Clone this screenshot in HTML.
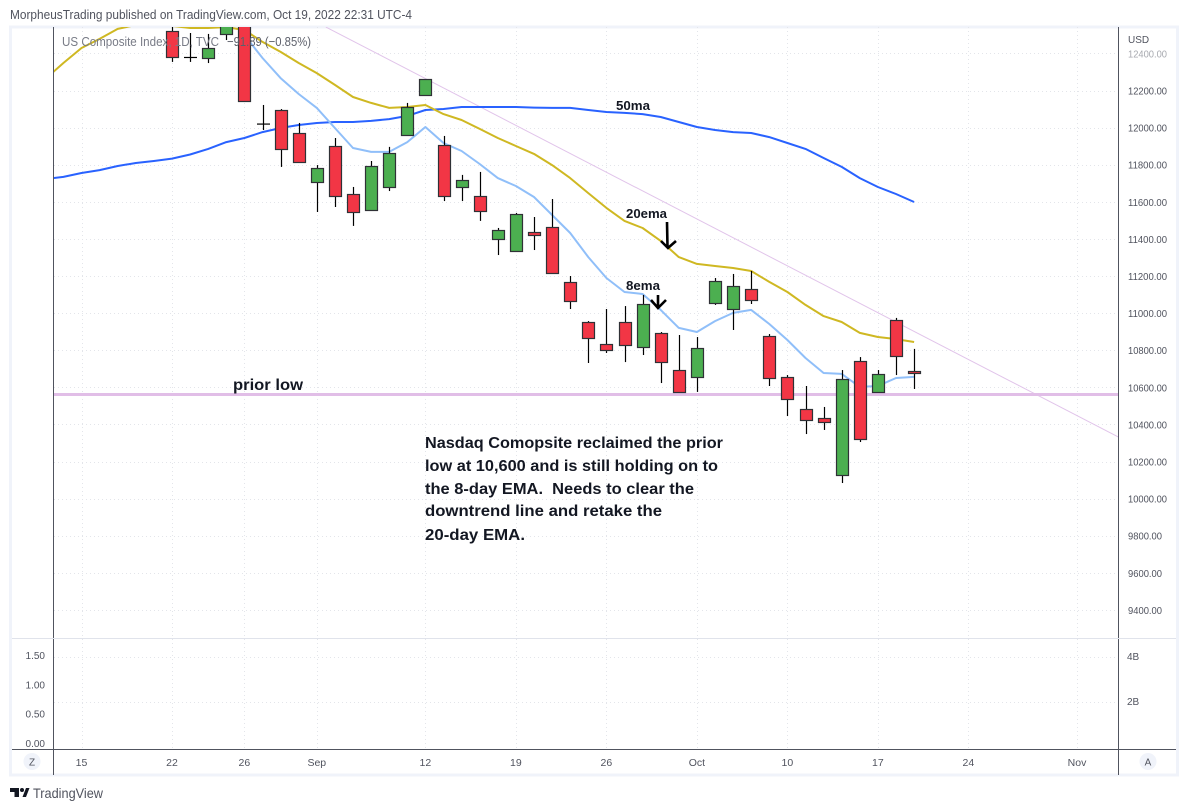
<!DOCTYPE html>
<html lang="en">
<head>
<meta charset="utf-8">
<title>US Composite Index chart</title>
<style>
html,body{margin:0;padding:0;background:#fff;width:1188px;height:810px;overflow:hidden}
svg{display:block;font-family:"Liberation Sans",sans-serif}
</style>
</head>
<body>
<svg id="chart" width="1188" height="810" viewBox="0 0 1188 810" xmlns="http://www.w3.org/2000/svg">
  <defs><clipPath id="paneClip"><rect x="54" y="27" width="1064" height="611"/></clipPath></defs>
  <text x="10" y="19" font-size="13" fill="#50535e" textLength="402" lengthAdjust="spacingAndGlyphs">MorpheusTrading published on TradingView.com, Oct 19, 2022 22:31 UTC-4</text>
  <rect x="10.5" y="27" width="1167" height="748" fill="#fff" stroke="#f0f3fa" stroke-width="3"/>
  <g id="grid"></g>
  <g id="main" clip-path="url(#paneClip)"></g>
  <g id="axes"></g>

  <text x="62" y="46" font-size="13" fill="#787b86" textLength="157" lengthAdjust="spacingAndGlyphs">US Composite Index, 1D, TVC</text>
  <text x="227" y="46" font-size="13" fill="#5d606b" textLength="84" lengthAdjust="spacingAndGlyphs">−91.89 (−0.85%)</text>

  <g fill="#131722" font-weight="bold">
    <text x="616" y="110" font-size="13" textLength="34" lengthAdjust="spacingAndGlyphs">50ma</text>
    <text x="626" y="218" font-size="13" textLength="41" lengthAdjust="spacingAndGlyphs">20ema</text>
    <text x="626" y="290" font-size="13" textLength="34" lengthAdjust="spacingAndGlyphs">8ema</text>
    <text x="233" y="390" font-size="16" textLength="70" lengthAdjust="spacingAndGlyphs">prior low</text>
    <text x="425" y="448" font-size="16" textLength="298" lengthAdjust="spacingAndGlyphs">Nasdaq Comopsite reclaimed the prior</text>
    <text x="425" y="471" font-size="16" textLength="293" lengthAdjust="spacingAndGlyphs">low at 10,600 and is still holding on to</text>
    <text x="425" y="494" font-size="16" textLength="269" lengthAdjust="spacingAndGlyphs" xml:space="preserve">the 8-day EMA.  Needs to clear the</text>
    <text x="425" y="516" font-size="16" textLength="237" lengthAdjust="spacingAndGlyphs">downtrend line and retake the</text>
    <text x="425" y="540" font-size="16" textLength="100" lengthAdjust="spacingAndGlyphs">20-day EMA.</text>
  </g>
  <path d="M667 222 L667.5 247 M661 241 L668 248 L676 241" fill="none" stroke="#000" stroke-width="2.6"/>
  <path d="M658 295 L658 307 M651 300 L658 308 L666 300" fill="none" stroke="#000" stroke-width="2.6"/>

  <circle cx="32" cy="761.5" r="8.5" fill="#f0f3fa"/>
  <text x="32" y="765.5" font-size="10" fill="#50535e" text-anchor="middle">Z</text>
  <circle cx="1148" cy="761.5" r="8.5" fill="#f0f3fa"/>
  <text x="1148" y="765.5" font-size="10" fill="#50535e" text-anchor="middle">A</text>

  <g>
    <path d="M10 788 H19 V797 H14.5 V792 H10 Z M22.5 797 L26 788 H29.5 L26 797 Z" fill="#131722"/>
    <circle cx="22" cy="790" r="2" fill="#131722"/>
    <text x="33" y="798" font-size="14" fill="#50535e" textLength="70" lengthAdjust="spacingAndGlyphs">TradingView</text>
  </g>
</svg>
<script>
const emaDates = ['Aug 11','Aug 12','Aug 15','Aug 16','Aug 17','Aug 18','Aug 19','Aug 22','Aug 23','Aug 24','Aug 25','Aug 26','Aug 29','Aug 30','Aug 31','Sep 1','Sep 2','Sep 6','Sep 7','Sep 8','Sep 9','Sep 12','Sep 13','Sep 14','Sep 15','Sep 16','Sep 19','Sep 20','Sep 21','Sep 22','Sep 23','Sep 26','Sep 27','Sep 28','Sep 29','Sep 30','Oct 3','Oct 4','Oct 5','Oct 6','Oct 7','Oct 10','Oct 11','Oct 12','Oct 13','Oct 14','Oct 17','Oct 18','Oct 19'];
const candleOpen = [12521,12378,12373,12505,12620,12019,12095,11971,11707,11901,11642,11556,11680,11960,12176,11906,11680,11631,11400,11335,11437,11464,11168,10952,10833,10952,10817,10893,10693,10656,11054,11022,11130,10877,10656,10483,10435,10127,10742,10575,10963,10688];
const candleHigh = [12560,12510,12505,12600,12640,12122,12100,12025,11798,11944,11680,11820,11896,12133,12262,11955,11745,11761,11459,11540,11518,11615,11200,10957,11022,11038,11098,10898,10882,10871,11189,11211,11227,10887,10666,10607,10494,10693,10763,10693,10974,10807];
const candleLow = [12354,12354,12348,12472,12143,11987,11788,11815,11545,11572,11470,11551,11658,11960,12176,11604,11604,11497,11313,11335,11340,11216,11022,10731,10785,10736,10774,10623,10575,10575,11044,10909,11049,10607,10445,10348,10370,10084,10305,10575,10666,10591];
const candleClose = [12381,12378,12429,12560,12143,12019,11885,11815,11782,11631,11545,11793,11863,12111,12262,11631,11718,11550,11448,11534,11421,11216,11065,10866,10801,10828,11049,10736,10575,10812,11173,11146,11071,10650,10537,10424,10413,10645,10321,10672,10769,10677];

const ema8 = [12950,12960,12970,12960,12940,12900,12850,12800,12760,12720,12660,12499,12375,12267,12181,12106,11998,11890,11869,11869,11922,12003,11917,11874,11804,11728,11685,11626,11529,11432,11302,11189,11114,11103,11017,10920,10898,10957,11001,11017,10941,10855,10758,10677,10672,10602,10607,10650,10656];
const ema20 = [12262,12348,12429,12478,12532,12553,12559,12548,12537,12537,12542,12526,12462,12408,12348,12294,12230,12165,12133,12106,12111,12122,12073,12041,11993,11944,11901,11858,11798,11728,11647,11567,11497,11459,11389,11302,11265,11254,11243,11227,11168,11114,11044,10984,10952,10893,10871,10860,10844];
const ma50 = [11723,11734,11755,11771,11793,11809,11820,11833,11855,11885,11922,11944,11976,11998,12014,12025,12030,12030,12036,12046,12063,12095,12100,12111,12111,12111,12111,12108,12106,12106,12095,12084,12079,12073,12057,12030,12003,11987,11976,11971,11949,11917,11885,11836,11788,11728,11680,11642,11599];

const priceTicks = [12400,12200,12000,11800,11600,11400,11200,11000,10800,10600,10400,10200,10000,9800,9600,9400];
const volumeTicks = [4,2];
const leftTicks = [1.5,1,0.5,0];
const timeTickBars = [-5,0,4,8,14,19,24,29,34,39,44,50];
const timeTickLabels = ['15','22','26','Sep','12','19','26','Oct','10','17','24','Nov'];
const priorLowPrice = 10561;
const trendlineBars = [8.5,52.3];
const trendlinePrices = [12542,10331];

const SVG_NS = 'http://www.w3.org/2000/svg';
function xOf(bar){ return 172 + 18.1 * bar; }
function yOf(price){ return 53.4 + (12400 - price) * 0.1855; }
function yVolume(v){ return 747 - 22.5 * v; }
function yLeft(v){ return 743 - 58.67 * v; }
function make(parent, tag, attrs, txt){
  const el = document.createElementNS(SVG_NS, tag);
  for (const k in attrs) el.setAttribute(k, attrs[k]);
  if (txt !== undefined) el.textContent = txt;
  parent.appendChild(el);
  return el;
}
const grid = document.getElementById('grid');
const main = document.getElementById('main');
const axes = document.getElementById('axes');
const gridStyle = {stroke:'#e3e5ea','stroke-width':1,'stroke-dasharray':'1 3',fill:'none'};
const labelColor = '#50535e';

priceTicks.forEach(function(p){
  const y = Math.round(yOf(p)) + 0.5;
  const line = make(grid,'line',Object.assign({x1:54,x2:1118,y1:y,y2:y},gridStyle));
  
  
  const t = make(axes,'text',{x:1128,y:yOf(p)+4,'font-size':10,fill:p===12400?'#a8aab0':labelColor,textLength:p>=10000?39:34,lengthAdjust:'spacingAndGlyphs'},p.toFixed(2));
  
  
});
volumeTicks.forEach(function(v){
  const y = Math.round(yVolume(v)) + 0.5;
  const line = make(grid,'line',Object.assign({x1:54,x2:1118,y1:y,y2:y},gridStyle));
  
  
  const t = make(axes,'text',{x:1127,y:yVolume(v)+3,'font-size':10,fill:labelColor},v+'B');
  
  
});
leftTicks.forEach(function(v){
  const t = make(axes,'text',{x:45,y:yLeft(v)+4,'font-size':10,fill:labelColor,'text-anchor':'end'},v.toFixed(2));
  
  
});
timeTickBars.forEach(function(b,i){
  const x = Math.round(xOf(b)) + 0.5;
  const line = make(grid,'line',Object.assign({x1:x,x2:x,y1:27,y2:749},gridStyle));
  
  
  const t = make(axes,'text',{x:xOf(b),y:766,'font-size':10.5,fill:labelColor,'text-anchor':'middle'},timeTickLabels[i]);
  
  
});

const trend = make(main,'line',{x1:xOf(trendlineBars[0]),y1:yOf(trendlinePrices[0]),x2:xOf(trendlineBars[1]),y2:yOf(trendlinePrices[1]),stroke:'#e1c4ea','stroke-width':1});


const prior = make(main,'line',{x1:54,x2:1118,y1:yOf(priorLowPrice),y2:yOf(priorLowPrice),stroke:'#e1bee7','stroke-width':3});



function linePoints(values){
  return values.map(function(v,i){ return xOf(i-7).toFixed(1)+','+yOf(v).toFixed(1); }).join(' ');
}
const lineMa50 = make(main,'polyline',{points:linePoints(ma50),fill:'none',stroke:'#2962ff','stroke-width':2,'stroke-linejoin':'round'});


const lineEma20 = make(main,'polyline',{points:linePoints(ema20),fill:'none',stroke:'#cfb822','stroke-width':2,'stroke-linejoin':'round'});


const lineEma8 = make(main,'polyline',{points:linePoints(ema8),fill:'none',stroke:'#90bff9','stroke-width':2,'stroke-linejoin':'round'});



candleOpen.forEach(function(o,i){
  const h = candleHigh[i], l = candleLow[i], c = candleClose[i];
  const x = Math.round(xOf(i));
  const wick = make(main,'line',{x1:x+0.5,x2:x+0.5,y1:yOf(h),y2:yOf(l),stroke:'#000','stroke-width':1.2});
  
  
  if (Math.abs(o-c) < 1){
    const dash = make(main,'line',{x1:x-6,x2:x+7,y1:yOf(o),y2:yOf(o),stroke:'#000','stroke-width':1.2});
    
    
    return;
  }
  const top = Math.round(yOf(Math.max(o,c)));
  const bot = Math.round(yOf(Math.min(o,c)));
  const body = make(main,'rect',{x:x-5.5,y:top+0.5,width:12,height:Math.max(bot-top,1),fill:c>=o?'#4caf50':'#f23645',stroke:'#2f3136','stroke-width':1.2});
  
  
});

const axisLines = [
  ['left-axis-line',53.5,27,53.5,775,'#50535e'],
  ['right-axis-line',1118.5,27,1118.5,775,'#50535e'],
  ['pane-separator',12,638.5,1176,638.5,'#e0e3eb'],
  ['time-axis-line',12,749.5,1176,749.5,'#50535e']
];
axisLines.forEach(function(a){
  const ln = make(axes,'line',{x1:a[1],y1:a[2],x2:a[3],y2:a[4],stroke:a[5],'stroke-width':1});
  
  
});
const usd = make(axes,'text',{x:1128,y:43,'font-size':10,fill:labelColor},'USD');


</script>
</body>
</html>
